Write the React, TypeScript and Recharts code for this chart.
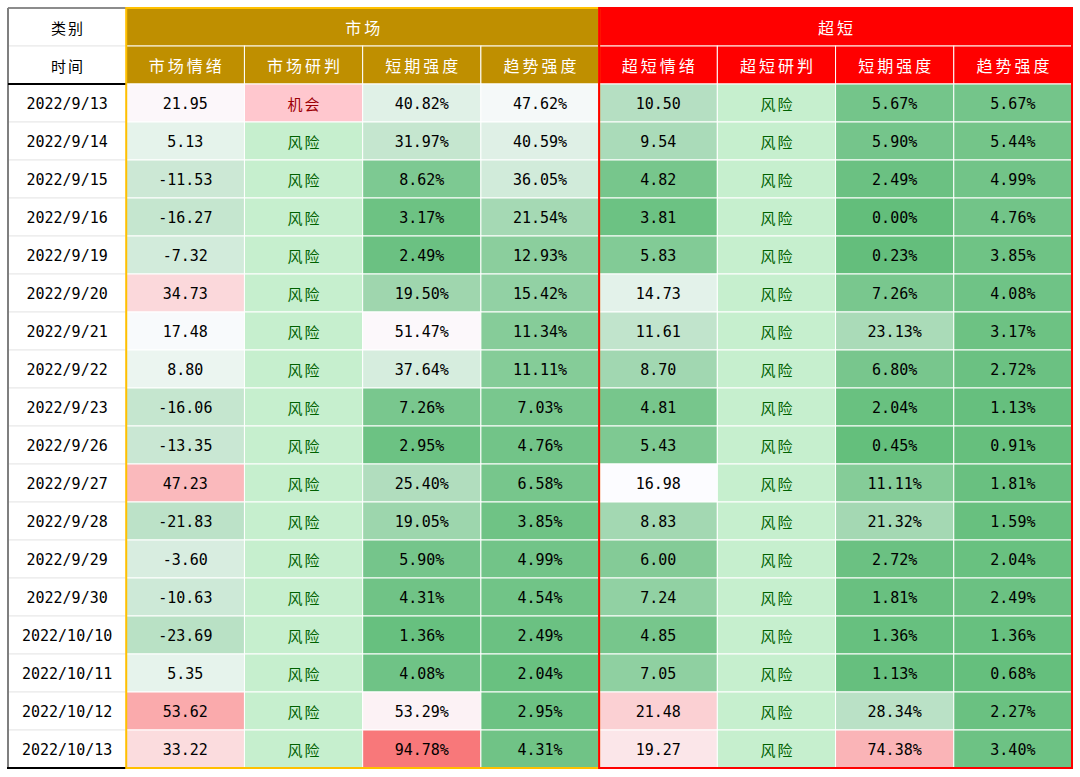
import React from "react";
import { ComposedChart, Scatter, XAxis, YAxis } from "recharts";

// ---------- data ----------
const dates = [
  "2022/9/13", "2022/9/14", "2022/9/15", "2022/9/16", "2022/9/19", "2022/9/20",
  "2022/9/21", "2022/9/22", "2022/9/23", "2022/9/26", "2022/9/27", "2022/9/28",
  "2022/9/29", "2022/9/30", "2022/10/10", "2022/10/11", "2022/10/12", "2022/10/13",
];
const marketMood = [21.95, 5.13, -11.53, -16.27, -7.32, 34.73, 17.48, 8.8, -16.06, -13.35, 47.23, -21.83, -3.6, -10.63, -23.69, 5.35, 53.62, 33.22];
const marketJudge = ["机会", "风险", "风险", "风险", "风险", "风险", "风险", "风险", "风险", "风险", "风险", "风险", "风险", "风险", "风险", "风险", "风险", "风险"];
const marketShort = [40.82, 31.97, 8.62, 3.17, 2.49, 19.5, 51.47, 37.64, 7.26, 2.95, 25.4, 19.05, 5.9, 4.31, 1.36, 4.08, 53.29, 94.78];
const marketTrend = [47.62, 40.59, 36.05, 21.54, 12.93, 15.42, 11.34, 11.11, 7.03, 4.76, 6.58, 3.85, 4.99, 4.54, 2.49, 2.04, 2.95, 4.31];
const ultraMood = [10.5, 9.54, 4.82, 3.81, 5.83, 14.73, 11.61, 8.7, 4.81, 5.43, 16.98, 8.83, 6.0, 7.24, 4.85, 7.05, 21.48, 19.27];
const ultraJudge = ["风险", "风险", "风险", "风险", "风险", "风险", "风险", "风险", "风险", "风险", "风险", "风险", "风险", "风险", "风险", "风险", "风险", "风险"];
const ultraShort = [5.67, 5.9, 2.49, 0.0, 0.23, 7.26, 23.13, 6.8, 2.04, 0.45, 11.11, 21.32, 2.72, 1.81, 1.36, 1.13, 28.34, 74.38];
const ultraTrend = [5.67, 5.44, 4.99, 4.76, 3.85, 4.08, 3.17, 2.72, 1.13, 0.91, 1.81, 1.59, 2.04, 2.49, 1.36, 0.68, 2.27, 3.4];

const groupTitles = ["市场", "超短"];
const subHeaders = ["市场情绪", "市场研判", "短期强度", "趋势强度", "超短情绪", "超短研判", "短期强度", "趋势强度"];
const cornerTop = "类别";
const cornerBottom = "时间";

// ---------- styles ----------
const W = 1080;
const H = 777;
const MARGIN = { top: 8, left: 8, right: 8, bottom: 9 };
const NCOLS = 9;
const NROWS = 20;
const CELL_W = (W - MARGIN.left - MARGIN.right) / NCOLS;
const CELL_H = (H - MARGIN.top - MARGIN.bottom) / NROWS;

const GREEN = [99, 190, 123];
const WHITE = [252, 252, 255];
const RED = [248, 105, 107];
const GOLD_FILL = "#BF8F00";
const GOLD_LINE = "#FFC000";
const RED_FILL = "#FF0000";

const NUM_FONT = "'DejaVu Sans Mono', 'Liberation Mono', monospace";
const CJK_FONT = "'Noto Sans CJK SC', 'Noto Sans', sans-serif";

function mix(a: number[], b: number[], t: number) {
  const c = a.map((v, i) => Math.round(v + (b[i] - v) * t));
  return `rgb(${c[0]},${c[1]},${c[2]})`;
}
function scale3(v: number, lo: number, mid: number, hi: number) {
  if (v <= mid) {
    const t = Math.min(1, Math.max(0, (mid - v) / (mid - lo)));
    return mix(WHITE, GREEN, t);
  }
  const t = Math.min(1, Math.max(0, (v - mid) / (hi - mid)));
  return mix(WHITE, RED, t);
}
const pctColor = (v: number) => scale3(v, 0, 50, 100);
const marketMoodColor = (v: number) => scale3(v, -80, 20, 80);
const ultraMoodColor = (v: number) => scale3(v, 3, 17, 32);
const judgeStyle = (s: string) =>
  s === "机会" ? { fill: "#FFC7CE", color: "#9C0006" } : { fill: "#C6EFCE", color: "#006100" };

type Cell = {
  x: number;
  y: number;
  span: number;
  text: string;
  fill: string;
  color: string;
  stroke: string;
  font: string;
  size: number;
  spacing: number;
  dy: number;
};

const cells: Cell[] = [];
const numCell = (col: number, row: number, text: string, fill: string): Cell => ({
  x: col + 0.5, y: row + 0.5, span: 1, text, fill, color: "#000000", stroke: "#FFFFFF",
  font: NUM_FONT, size: 15, spacing: 0, dy: 1,
});
const cjkCell = (col: number, row: number, text: string, fill: string, color: string): Cell => ({
  x: col + 0.5, y: row + 0.5, span: 1, text, fill, color, stroke: "#FFFFFF",
  font: CJK_FONT, size: 15, spacing: 2, dy: 0,
});

// header
cells.push({ ...cjkCell(0, 0, cornerTop, "#FFFFFF", "#000000"), stroke: "#E8E8E8" });
cells.push({ ...cjkCell(0, 1, cornerBottom, "#FFFFFF", "#000000"), stroke: "#E8E8E8" });
groupTitles.forEach((t, g) => {
  cells.push({
    x: 1 + g * 4 + 2, y: 0.5, span: 4, text: t, fill: g === 0 ? GOLD_FILL : RED_FILL,
    color: "#FFFFFF", stroke: "#F3E3B0", font: CJK_FONT, size: 16, spacing: 3, dy: 0,
  });
});
subHeaders.forEach((t, i) => {
  cells.push({
    x: i + 1.5, y: 1.5, span: 1, text: t, fill: i < 4 ? GOLD_FILL : RED_FILL,
    color: "#FFFFFF", stroke: "#FFFFFF", font: CJK_FONT, size: 16, spacing: 3, dy: 0,
  });
});
// body
dates.forEach((d, r) => {
  const row = r + 2;
  cells.push({ ...numCell(0, row, d, "#FFFFFF"), stroke: "#E8E8E8" });
  cells.push(numCell(1, row, marketMood[r].toFixed(2), marketMoodColor(marketMood[r])));
  const mj = judgeStyle(marketJudge[r]);
  cells.push(cjkCell(2, row, marketJudge[r], mj.fill, mj.color));
  cells.push(numCell(3, row, marketShort[r].toFixed(2) + "%", pctColor(marketShort[r])));
  cells.push(numCell(4, row, marketTrend[r].toFixed(2) + "%", pctColor(marketTrend[r])));
  cells.push(numCell(5, row, ultraMood[r].toFixed(2), ultraMoodColor(ultraMood[r])));
  const uj = judgeStyle(ultraJudge[r]);
  cells.push(cjkCell(6, row, ultraJudge[r], uj.fill, uj.color));
  cells.push(numCell(7, row, ultraShort[r].toFixed(2) + "%", pctColor(ultraShort[r])));
  cells.push(numCell(8, row, ultraTrend[r].toFixed(2) + "%", pctColor(ultraTrend[r])));
});

// frames drawn on top of the cells (grid units: center + span)
type Frame = { x: number; y: number; cols: number; rows: number; kind: string; stroke: string };
const frames: Frame[] = [
  { x: 0.5, y: NROWS / 2, cols: 1, rows: NROWS, kind: "first", stroke: "#7F7F7F" },
  { x: 3, y: NROWS / 2, cols: 4, rows: NROWS, kind: "box", stroke: GOLD_LINE },
  { x: 7, y: NROWS / 2, cols: 4, rows: NROWS, kind: "box", stroke: RED_FILL },
];

const CellShape = (props: any) => {
  const { cx, cy, payload } = props;
  const p = payload as Cell;
  if (cx == null || cy == null || !p) return null;
  const w = CELL_W * p.span;
  return (
    <g>
      <rect x={cx - w / 2} y={cy - CELL_H / 2} width={w} height={CELL_H} fill={p.fill} stroke={p.stroke} strokeWidth={1} />
      <text
        x={cx + p.spacing / 2}
        y={cy + p.dy}
        textAnchor="middle"
        dominantBaseline="central"
        fill={p.color}
        fontFamily={p.font}
        fontSize={p.size}
        letterSpacing={p.spacing}
      >
        {p.text}
      </text>
    </g>
  );
};

const FrameShape = (props: any) => {
  const { cx, cy, payload } = props;
  const f = payload as Frame;
  if (cx == null || cy == null || !f) return null;
  const w = CELL_W * f.cols;
  const h = CELL_H * f.rows;
  const x0 = cx - w / 2;
  const y0 = cy - h / 2;
  if (f.kind === "box") {
    return <rect x={x0} y={y0} width={w} height={h} fill="none" stroke={f.stroke} strokeWidth={2} />;
  }
  return (
    <g>
      <line x1={x0} y1={y0} x2={x0 + w} y2={y0} stroke="#8C8C8C" strokeWidth={2} />
      <line x1={x0} y1={y0} x2={x0} y2={y0 + h} stroke={f.stroke} strokeWidth={2} />
      <line x1={x0} y1={y0 + 2 * CELL_H} x2={x0 + w} y2={y0 + 2 * CELL_H} stroke="#000000" strokeWidth={2} />
      <line x1={x0 - 1} y1={y0 + h} x2={x0 + w} y2={y0 + h} stroke="#000000" strokeWidth={2} />
    </g>
  );
};

export default function App() {
  return (
    <div style={{ position: "absolute", left: 0, top: 0, background: "#FFFFFF" }}>
      <ComposedChart width={W} height={H} margin={MARGIN} data={cells}>
        <XAxis type="number" dataKey="x" domain={[0, NCOLS]} hide />
        <YAxis type="number" dataKey="y" domain={[0, NROWS]} reversed hide />
        <Scatter data={cells} dataKey="y" shape={CellShape} isAnimationActive={false} />
        <Scatter data={frames} dataKey="y" shape={FrameShape} isAnimationActive={false} />
      </ComposedChart>
    </div>
  );
}
